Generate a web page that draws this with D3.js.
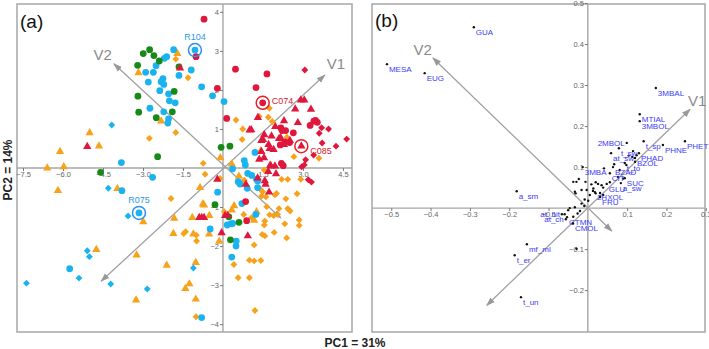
<!DOCTYPE html>
<html>
<head>
<meta charset="utf-8">
<script src="https://cdn.jsdelivr.net/npm/d3@7"></script>
<style>
  body { margin: 0; background: #fff; }
  svg { display: block; font-family: Arial, "Liberation Sans", sans-serif; }
</style>
</head>
<body>
<svg id="chart" width="709" height="349"></svg>
<script>
// ---- panel (a): sample scores, grouped by colour and shape ----
const redCircles = [[-0.71,3.81],[-1.01,2.85],[-0.21,2.04],[0.14,1.27],[0.47,2.53],[1.65,2.41],[1.24,2.06],
  [3.41,1.2],[3.54,1.17],[3.47,1.22],[3.27,1.09],[2.17,1.03],[2.22,0.96],[2.64,0.9],[2.35,0.96],[2.32,0.67],
  [2.5,0.65],[2.15,0.59],[2.19,0.12],[2.26,0.06],[0.89,-1.35],[0.85,-0.86]];
const redTriangles = [[-1.61,2.56],[-5.09,0.55],[2.92,1.74],[3.05,1.74],[1.31,1.29],[2.71,1.51],[3.3,1.5],[2.29,1.21],
  [2.81,1.16],[1.0,0.97],[1.06,0.98],[1.96,1.06],[1.55,0.85],[1.82,0.82],[2.1,0.75],[2.16,0.78],[1.44,0.7],[1.5,0.73],
  [1.71,0.6],[1.75,0.5],[1.9,0.47],[1.44,0.42],[1.54,0.26],[1.77,0.07],[2.51,0.7],[2.29,0.6],[1.36,0.22],[1.7,-0.09],
  [1.8,0.05],[1.95,0.05],[1.99,-0.15],[1.3,-0.26],[1.57,-0.33],[1.6,-0.42],[1.73,-0.62],[0.86,-0.42],[-0.21,-0.29],
  [-0.89,-1.27],[-0.8,-1.27],[-0.71,-1.27],[0.08,-1.22],[0.18,-1.22],[-0.05,-1.66],[0.93,-1.74]];
const redDiamonds = [[3.07,2.51],[3.7,1.03],[3.96,1.0],[3.61,0.89],[3.72,0.64],[4.24,0.56],[4.64,0.74],[3.4,0.33],
  [3.1,0.21],[2.95,0.03],[3.05,0.08],[3.2,-0.3],[3.32,-0.36]];
const orangeTriangles = [[-1.71,2.93],[-3.17,2.44],[-2.32,1.2],[-5.0,0.9],[-4.65,0.56],[-6.11,0.42],[-6.59,0.0],
  [-5.97,0.03],[-0.1,0.26],[1.42,0.44],[0.33,0.1],[0.6,-0.21],[-6.19,-0.58],[-3.96,-0.53],[-2.99,-1.38],[-1.83,-1.29],
  [-1.86,-1.68],[-4.75,-2.09],[-3.24,-2.23],[-2.11,-2.49],[-3.26,-3.38],[-1.41,-3.09],[-0.86,-0.5],[-0.71,-0.95],
  [-0.75,-0.92],[-1.15,-1.27],[-0.51,-1.22],[-1.11,-1.69],[-0.52,-1.69],[-0.14,-1.88],[-1.02,-2.42],[-1.26,-2.97],
  [-1.02,-3.36],[0.42,-0.97],[1.17,-1.34],[0.33,-1.08],[1.26,-1.12]];
const orangeDiamonds = [[-1.77,2.79],[-1.31,2.31],[-1.77,0.91],[-2.76,0.76],[0.49,1.23],[0.74,1.0],[0.72,0.73],
  [-0.74,0.12],[1.74,1.53],[1.7,1.3],[1.85,1.19],[1.36,1.32],[2.4,0.79],[2.66,0.29],[3.6,0.25],[1.55,-0.05],
  [-0.11,-0.27],[-1.95,-0.78],[-1.47,-1.68],[-0.67,-0.16],[2.2,-0.29],[2.43,-0.29],[2.92,-0.29],[1.45,-0.72],
  [1.61,-0.74],[1.95,-0.69],[2.01,-0.65],[2.36,-0.79],[2.78,-0.66],[1.64,-0.99],[2.1,-1.04],[2.43,-1.04],[2.52,-1.1],
  [0.78,-1.19],[1.57,-1.36],[1.55,-1.46],[1.75,-1.2],[1.9,-1.22],[2.05,-1.19],[2.32,-1.43],[2.86,-1.33],[2.86,-1.47],
  [1.47,-1.7],[1.57,-1.74],[1.92,-1.65],[2.39,-1.79],[1.17,-1.97],[0.99,-2.36],[1.17,-2.38],[1.42,-2.37],[0.41,-2.47],
  [0.57,-2.81],[0.99,-2.81],[1.2,-3.65],[-1.01,-3.81],[0.8,-0.31],[1.08,-1.27],[0.05,-1.12],[-1.0,-1.72],[-0.99,-1.87],
  [-1.4,-1.63],[1.41,-0.55],[1.49,-0.61]];
const cyanCircles = [[-1.85,3.03],[-2.11,2.85],[-2.2,2.81],[-2.51,2.62],[-2.9,2.45],[-2.61,2.45],[-1.65,2.37],
  [-2.25,2.29],[-2.32,2.21],[-2.8,2.2],[-2.22,2.14],[-2.37,1.98],[-2.04,1.9],[-2.01,1.72],[-1.79,1.67],[-2.74,1.53],
  [-2.22,1.44],[-2.04,1.26],[-2.07,1.15],[-3.81,0.14],[-1.19,2.51],[-0.8,2.08],[-0.39,1.85],[0.04,1.7],[1.2,0.4],
  [0.8,0.19],[0.84,0.08],[0.36,-0.02],[0.93,-0.14],[1.08,-0.19],[1.3,-0.33],[0.57,-0.35],[0.64,-0.41],[0.91,-0.52],
  [1.3,-0.5],[-0.2,-0.62],[0.71,-0.91],[1.23,-1.19],[0.16,-1.46],[0.3,-1.43],[0.36,-1.42],[-0.48,-1.56],[0.5,-1.87],
  [0.49,-2.0],[0.33,-2.28],[-0.8,-3.83],[-2.64,-0.24],[-3.79,-0.58],[-5.75,-2.58],[1.26,-0.29]];
const cyanDiamonds = [[-4.17,1.1],[-4.3,-0.52],[-3.56,-1.23],[-5.09,-2.12],[-5.01,-2.27],[-5.4,-2.82],[-7.37,-2.95],
  [-4.21,-2.97],[-2.84,-3.1],[-1.11,-2.56]];
const greenCircles = [[-2.75,3.03],[-2.99,2.93],[-2.59,2.88],[-2.39,2.74],[-3.2,2.63],[-1.65,2.59],[-1.83,1.96],
  [-3.19,1.84],[-3.16,1.43],[-2.5,1.29],[-1.9,1.44],[-2.45,0.29],[-0.07,0.53],[0.26,0.56],[-4.59,-0.11],[-0.3,-0.94],
  [0.22,-1.25],[0.6,-1.39],[0.28,-1.84]];

// highlighted samples
const sampleNames = ["R104", "C074", "C085", "R075"];
const sampleX = [-1.05, 1.49, 2.94, -3.15];
const sampleY = [3.02, 1.67, 0.56, -1.15];
const sampleGroup = ["cyan", "red", "red", "cyan"];
const sampleShape = ["circle", "circle", "triangle", "circle"];

// biplot vectors of panel (a): [x1, y1, x2, y2]
const vectorNames = ["V1", "V2"];
const vectorsA = [[-4.57, -2.9, 3.82, 2.38], [2.17, -1.28, -4.09, 2.67]];

const xTicksA = [-7.5, -6.0, -4.5, -3.0, -1.5, 1.5, 3.0, 4.5];
const yTicksA = [-4, -3, -2, -1, 1, 2, 3, 4];

// ---- panel (b): variable loadings ----
const varNames = ["GUA","MESA","EUG","3MBAL","MTIAL","3MBOL","2MBOL","t_sp","PHNE","PHET","t_sw","at_sw","PHAD",
  "BZOL","t_to","BZAD","3MBA","CIT","SUC","a_sw","GLU","2HXOL","FRU","a_sm","at_bit","at_ch","CTMN","CMOL",
  "mf_ml","t_er","t_un"];
const varX = [-0.29,-0.511,-0.415,0.173,0.132,0.132,0.099,0.142,0.191,0.247,0.079,0.059,0.13,0.12,0.094,0.064,
  -0.013,0.056,0.094,0.084,0.048,0.018,0.031,-0.181,-0.066,-0.056,-0.053,-0.038,-0.155,-0.186,-0.17];
const varY = [0.441,0.351,0.329,0.293,0.229,0.212,0.159,0.163,0.154,0.163,0.146,0.134,0.134,0.122,0.11,0.1,
  0.1,0.085,0.073,0.061,0.059,0.039,0.027,0.041,-0.015,-0.027,-0.022,-0.037,-0.088,-0.115,-0.217];
// unlabelled loadings
const otherX = [-0.029,-0.031,-0.003,0.026,0.039,0.013,0.02,0.031,0.039,0.005,-0.008,0.001,-0.016,-0.009,-0.033,
  -0.046,-0.05,-0.02,-0.026,-0.059,-0.037,-0.029,0.041,0.009,0.02,0.067,0.12,0.113,0.104,0.124,0.115,0.098,0.081,
  0.077,0.09,0.056,0.035,-0.006,0.014,-0.016,-0.023,-0.037,-0.033];
const otherY = [0.064,0.036,0.044,0.059,0.05,0.042,0.036,0.037,0.032,0.032,0.021,0.018,0.011,0.005,0.002,
  0,-0.005,-0.007,-0.013,-0.015,-0.021,-0.099,0.097,0.058,0.063,0.107,0.113,0.125,0.128,0.129,0.139,0.105,0.093,
  0.076,0.072,0.063,0.056,0.064,0.048,0.044,0.071,0.064,0.04];

const vectorsB = [[-0.257, -0.237, 0.26, 0.241], [0.061, -0.056, -0.394, 0.366]];
const xTicksB = [-0.5, -0.4, -0.3, -0.2, -0.1, 0.1, 0.2, 0.3];
const yTicksB = [-0.2, -0.1, 0.1, 0.2, 0.3, 0.4, 0.5];

const colors = { red: "#e0173c", orange: "#f7a21b", cyan: "#1ab3ef", green: "#168a16" };
const ringColors = { red: "#e8202a", cyan: "#2b8ff0" };
const grey = "#a6a6a6";

const svg = d3.select("#chart");

svg.append("defs").append("marker")
    .attr("id", "head")
    .attr("viewBox", "0 0 10 10")
    .attr("refX", 9).attr("refY", 5)
    .attr("markerWidth", 9).attr("markerHeight", 9)
    .attr("markerUnits", "userSpaceOnUse")
    .attr("orient", "auto-start-reverse")
    .append("path")
    .attr("d", "M0,1.5 L10,5 L0,8.5 Z")
    .attr("fill", "#999");

/**
 * Frame, zero lines and tick labels of one panel.
 */
function drawFrame(g, x, y, xTicks, yTicks, fmtX, fmtY) {
    const [x0, x1] = x.range();
    const [y0, y1] = y.range();
    g.append("rect")
        .attr("x", x0).attr("y", y0)
        .attr("width", x1 - x0).attr("height", y1 - y0)
        .attr("fill", "none").attr("stroke", grey).attr("stroke-width", 1.5);
    g.append("line").attr("x1", x0).attr("x2", x1).attr("y1", y(0)).attr("y2", y(0))
        .attr("stroke", grey).attr("stroke-width", 1.4);
    g.append("line").attr("x1", x(0)).attr("x2", x(0)).attr("y1", y0).attr("y2", y1)
        .attr("stroke", grey).attr("stroke-width", 1.4);

    const ax = g.append("g")
        .attr("transform", `translate(0,${y(0)})`)
        .call(d3.axisBottom(x).tickValues(xTicks).tickSize(3).tickPadding(1).tickFormat(fmtX));
    const ay = g.append("g")
        .attr("transform", `translate(${x(0)},0)`)
        .call(d3.axisLeft(y).tickValues(yTicks).tickSize(3).tickPadding(1).tickFormat(fmtY));
    [ax, ay].forEach(a => {
        a.select(".domain").remove();
        a.selectAll("line").attr("stroke", "#777");
        a.selectAll("text").attr("fill", "#666").style("font-size", "7.5px")
            .style("font-family", "Arial, 'Liberation Sans', sans-serif");
    });
}

function drawVectors(g, x, y, vectors, labelOffsets) {
    vectors.forEach((v, i) => {
        g.append("line")
            .attr("x1", x(v[0])).attr("y1", y(v[1]))
            .attr("x2", x(v[2])).attr("y2", y(v[3]))
            .attr("stroke", "#a0a0a0").attr("stroke-width", 1.3)
            .attr("marker-start", "url(#head)")
            .attr("marker-end", "url(#head)");
        const off = labelOffsets[i];
        g.append("text")
            .attr("x", x(v[2]) + off[0]).attr("y", y(v[3]) + off[1])
            .attr("text-anchor", off[2])
            .attr("fill", "#8a8a8a")
            .style("font-size", "15px")
            .text(vectorNames[i]);
    });
}

// ---------------- panel (a) ----------------
const xA = d3.scaleLinear().domain([-7.725, 4.84]).range([17, 352]);
const yA = d3.scaleLinear().domain([4.2, -4.2]).range([4, 332]);
const gA = svg.append("g");

drawFrame(gA, xA, yA, xTicksA, yTicksA, d3.format(".1f"), d3.format("d"));
drawVectors(gA, xA, yA, vectorsA, [[2, -6, "start"], [-2, -4, "end"]]);

const symbols = {
    circle: d3.symbol(d3.symbolCircle, 36),
    triangle: d3.symbol(d3.symbolTriangle, 30),
    diamond: d3.symbol(d3.symbolDiamond2, 30)
};

const groupsA = [
    { data: orangeDiamonds, color: "orange", shape: "diamond" },
    { data: orangeTriangles, color: "orange", shape: "triangle" },
    { data: cyanDiamonds, color: "cyan", shape: "diamond" },
    { data: cyanCircles, color: "cyan", shape: "circle" },
    { data: greenCircles, color: "green", shape: "circle" },
    { data: redDiamonds, color: "red", shape: "diamond" },
    { data: redTriangles, color: "red", shape: "triangle" },
    { data: redCircles, color: "red", shape: "circle" }
];

groupsA.forEach(grp => {
    gA.append("g").selectAll("path")
        .data(grp.data)
        .enter().append("path")
        .attr("transform", d => `translate(${xA(d[0])},${yA(d[1])})`)
        .attr("d", symbols[grp.shape])
        .attr("fill", colors[grp.color]);
});

// highlighted samples with rings and labels
sampleNames.forEach((name, i) => {
    const px = xA(sampleX[i]), py = yA(sampleY[i]);
    const c = sampleGroup[i];
    gA.append("path")
        .attr("transform", `translate(${px},${py})`)
        .attr("d", symbols[sampleShape[i]])
        .attr("fill", colors[c]);
    gA.append("circle")
        .attr("cx", px).attr("cy", py).attr("r", 6.5)
        .attr("fill", "none").attr("stroke", ringColors[c]).attr("stroke-width", 1.5);
    const lbl = gA.append("text")
        .attr("fill", c === "red" ? "#d42230" : "#2a9ae6")
        .style("font-size", "9px")
        .text(name);
    if (c === "cyan") {
        lbl.attr("x", px).attr("y", py - 10).attr("text-anchor", "middle");
    } else if (name === "C085") {
        lbl.attr("x", px + 9).attr("y", py + 8);
    } else {
        lbl.attr("x", px + 9).attr("y", py + 1);
    }
});

gA.append("text").attr("x", 20).attr("y", 28)
    .style("font-size", "19px").attr("fill", "#111").text("(a)");

// ---------------- panel (b) ----------------
const xB = d3.scaleLinear().domain([-0.549, 0.298]).range([372, 705]);
const yB = d3.scaleLinear().domain([0.4976, -0.302]).range([4, 332]);
const gB = svg.append("g");

drawFrame(gB, xB, yB, xTicksB, yTicksB, d3.format(".1f"), d3.format(".1f"));
drawVectors(gB, xB, yB, vectorsB, [[-2, -3, "start"], [-1, -3, "end"]]);

gB.append("g").selectAll("circle")
    .data(otherX.map((v, i) => [v, otherY[i]]))
    .enter().append("circle")
    .attr("cx", d => xB(d[0])).attr("cy", d => yB(d[1]))
    .attr("r", 1.2).attr("fill", "#111");

const leftLabels = new Set(["2MBOL", "at_bit", "at_ch"]);
varNames.forEach((name, i) => {
    const px = xB(varX[i]), py = yB(varY[i]);
    gB.append("circle").attr("cx", px).attr("cy", py).attr("r", 1.2).attr("fill", "#111");
    const left = leftLabels.has(name);
    gB.append("text")
        .attr("x", left ? px - 2 : px + 2)
        .attr("y", left ? py + 3 : py + 8)
        .attr("text-anchor", left ? "end" : "start")
        .attr("fill", "#3b3bf5")
        .style("font-size", "8px")
        .text(name);
});

gB.append("text").attr("x", 375).attr("y", 27)
    .style("font-size", "19px").attr("fill", "#111").text("(b)");

// ---------------- axis titles ----------------
svg.append("text")
    .attr("transform", "translate(12,170) rotate(-90)")
    .attr("text-anchor", "middle")
    .style("font-size", "12px").style("font-weight", "bold").attr("fill", "#222")
    .text("PC2 = 14%");
svg.append("text")
    .attr("x", 355).attr("y", 347)
    .attr("text-anchor", "middle")
    .style("font-size", "12px").style("font-weight", "bold").attr("fill", "#222")
    .text("PC1 = 31%");
</script>
</body>
</html>
